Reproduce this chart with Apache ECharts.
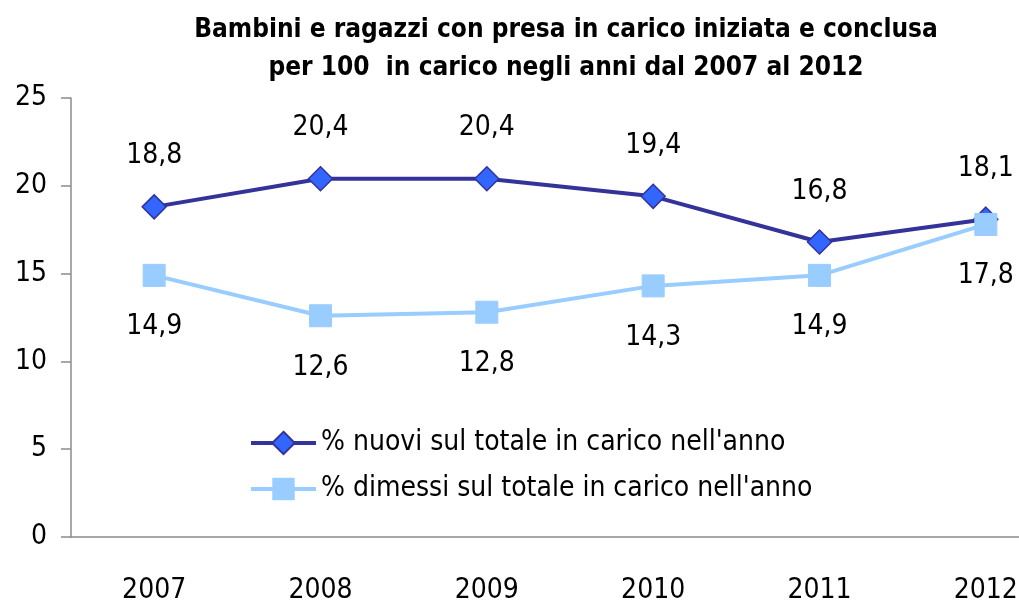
<!DOCTYPE html>
<html>
<head>
<meta charset="utf-8">
<script src="https://cdn.jsdelivr.net/npm/echarts@6/dist/echarts.min.js"></script>
<style>
  html, body { margin: 0; padding: 0; background: #fff; overflow: hidden; }
  /* the original chart is cut off on the right, so the canvas is wider than the window */
  #chart { width: 1069px; height: 605px; }
</style>
</head>
<body>
<div id="chart"></div>
<script>
// data
const years = ['2007', '2008', '2009', '2010', '2011', '2012'];
const nuovi = [18.8, 20.4, 20.4, 19.4, 16.8, 18.1];
const dimessi = [14.9, 12.6, 12.8, 14.3, 14.9, 17.8];
const seriesNames = [
  "% nuovi sul totale in carico nell'anno",
  "% dimessi sul totale in carico nell'anno"
];

const FONT = '"Liberation Sans Narrow", "DejaVu Sans Condensed", "Liberation Sans", sans-serif';
const fmt = v => v.toFixed(1).replace('.', ',');

const chart = echarts.init(document.getElementById('chart'), null, { renderer: 'canvas' });

chart.setOption({
  animation: false,
  textStyle: { fontFamily: FONT },
  title: {
    text: 'Bambini e ragazzi con presa in carico iniziata e conclusa\nper 100  in carico negli anni dal 2007 al 2012',
    left: 561,
    top: 6,
    textAlign: 'center',
    textStyle: {
      fontFamily: FONT,
      fontSize: 26,
      fontWeight: 'bold',
      color: '#000',
      lineHeight: 38
    }
  },
  legend: {
    orient: 'vertical',
    left: 244,
    top: 424,
    itemWidth: 65,
    itemHeight: 28,
    itemGap: 18,
    lineStyle: { width: 4 },
    textStyle: { fontFamily: FONT, fontSize: 28, color: '#000' },
    data: seriesNames
  },
  grid: { left: 71, right: 0, top: 98, bottom: 67 },
  xAxis: {
    type: 'category',
    data: years,
    boundaryGap: true,
    axisLine: { lineStyle: { color: '#8c8c8c', width: 1.5 } },
    axisTick: { length: 10, lineStyle: { color: '#8c8c8c', width: 1.5 } },
    axisLabel: { margin: 40, fontSize: 28, color: '#000', fontFamily: FONT }
  },
  yAxis: {
    type: 'value',
    min: 0,
    max: 25,
    interval: 5,
    splitLine: { show: false },
    axisLine: { show: true, lineStyle: { color: '#8c8c8c', width: 1.5 } },
    axisTick: { show: true, length: 10, lineStyle: { color: '#8c8c8c', width: 1.5 } },
    axisLabel: { margin: 24, fontSize: 28, color: '#000', fontFamily: FONT }
  },
  series: [
    {
      name: seriesNames[0],
      type: 'line',
      data: nuovi,
      symbol: 'diamond',
      symbolSize: [24, 24],
      lineStyle: { color: '#333399', width: 4 },
      itemStyle: { color: '#3366ff', borderColor: '#333399', borderWidth: 1.5 },
      label: {
        show: true,
        position: 'top',
        distance: 24,
        fontSize: 28,
        color: '#000',
        fontFamily: FONT,
        formatter: p => fmt(p.value)
      }
    },
    {
      name: seriesNames[1],
      type: 'line',
      data: dimessi,
      symbol: 'rect',
      symbolSize: 22,
      lineStyle: { color: '#99ccff', width: 4 },
      itemStyle: { color: '#99ccff', borderColor: '#99ccff' },
      label: {
        show: true,
        position: 'bottom',
        distance: 26,
        fontSize: 28,
        color: '#000',
        fontFamily: FONT,
        formatter: p => fmt(p.value)
      }
    }
  ]
});
</script>
</body>
</html>
